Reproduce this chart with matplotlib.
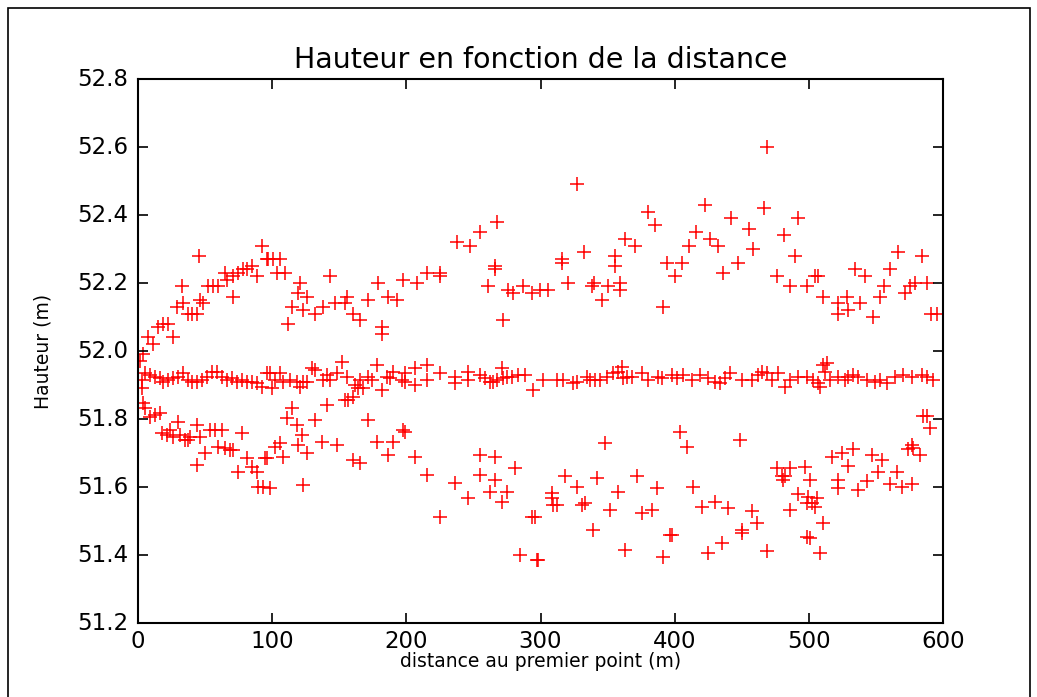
import matplotlib
matplotlib.use("Agg")
import matplotlib.pyplot as plt
from matplotlib.patches import Rectangle

# upper band
upper_x = [1.5, 3.7, 7.5, 11.2, 14.9, 18.6, 22.4, 26.1, 29.1, 33.5, 32.8, 37.3, 40.2, 44.0, 46.2, 48.4,
           45.5, 52.2, 55.9, 59.6, 64.8, 66.3, 70.8, 70.8, 74.5, 78.3, 81.2, 85.0, 88.7, 92.4, 96.1,
           96.9, 100.6, 105.8, 103.6, 109.6, 120.7, 119.3, 126.0, 114.8, 123.0, 111.8, 131.9, 137.9,
           143.1, 146.8, 155.8, 154.3, 160.2, 165.5, 171.4, 178.9, 181.9, 181.9, 186.3, 193.0, 197.5,
           208.0, 215.4, 225.1, 225.1, 237.7, 247.4, 254.9, 267.6, 266.1, 266.1, 260.9, 272.0, 275.8,
           279.5, 286.9, 293.6, 299.6, 305.6, 316.0, 316.0, 320.5, 327.2, 332.4, 338.4, 339.8, 345.8,
           350.3, 355.5, 355.5, 359.3, 359.3, 363.0, 370.4, 380.1, 385.3, 391.3, 394.3, 400.2, 405.4,
           410.7, 415.9, 422.6, 426.3, 432.3, 436.0, 442.0, 447.2, 455.4, 458.4, 466.6, 468.8, 476.2,
           481.5, 485.9, 489.7, 491.9, 498.6, 504.6, 506.8, 510.5, 521.7, 521.7, 528.4, 529.2, 534.4,
           538.1, 541.8, 547.8, 553.0, 556.0, 560.5, 566.4, 571.6, 575.4, 579.1, 584.3, 588.0, 591.0,
           595.5]
upper_y = [51.97, 51.99, 52.04, 52.02, 52.07, 52.08, 52.08, 52.04, 52.13, 52.14, 52.19, 52.11, 52.11,
           52.11, 52.15, 52.14, 52.28, 52.19, 52.19, 52.19, 52.23, 52.21, 52.22, 52.16, 52.23, 52.24,
           52.24, 52.25, 52.22, 52.31, 52.27, 52.27, 52.27, 52.27, 52.23, 52.23, 52.20, 52.17, 52.16,
           52.13, 52.12, 52.08, 52.11, 52.13, 52.22, 52.14, 52.16, 52.14, 52.11, 52.09, 52.15, 52.20,
           52.07, 52.05, 52.16, 52.15, 52.21, 52.20, 52.23, 52.23, 52.22, 52.32, 52.31, 52.35, 52.38,
           52.25, 52.24, 52.19, 52.09, 52.18, 52.17, 52.19, 52.17, 52.18, 52.18, 52.27, 52.26, 52.20,
           52.49, 52.29, 52.19, 52.20, 52.15, 52.19, 52.28, 52.25, 52.20, 52.18, 52.33, 52.31, 52.41,
           52.37, 52.13, 52.26, 52.22, 52.26, 52.31, 52.35, 52.43, 52.33, 52.31, 52.23, 52.39, 52.26,
           52.36, 52.30, 52.42, 52.60, 52.22, 52.34, 52.19, 52.28, 52.39, 52.19, 52.22, 52.22, 52.16,
           52.14, 52.11, 52.16, 52.12, 52.24, 52.14, 52.22, 52.10, 52.16, 52.19, 52.24, 52.29, 52.17,
           52.19, 52.20, 52.28, 52.20, 52.11, 52.11]

# middle band
mid_x = [2.7, 2.7, 5.2, 8.9, 12.7, 16.4, 18.9, 22.6, 26.3, 30.1, 33.8, 37.5, 40.0, 43.7, 47.4, 51.2,
         54.9, 58.6, 62.3, 66.1, 69.8, 73.5, 77.3, 81.0, 84.7, 88.4, 92.2, 95.9,
         98.4, 99.7, 102.1, 105.9, 108.4, 113.3, 118.3, 120.8, 123.3, 125.7, 129.5, 132.0, 138.2,
         140.6, 143.1, 148.1, 151.8, 155.6, 156.8, 160.5, 161.8, 164.2, 168.0, 165.5, 171.7, 174.2,
         177.9, 181.6, 185.4, 187.9, 190.3, 196.5,
         199.0, 199.0, 206.5, 206.5, 215.2, 215.2, 225.1, 236.3, 236.3, 246.2, 246.2, 254.9, 258.6,
         262.4, 264.9, 267.3, 271.1, 272.3, 274.8, 278.5, 283.5, 288.4, 294.7,
         302.1, 312.0, 317.0, 324.5, 327.0, 334.4, 336.9, 340.6, 344.3, 349.3, 354.3, 358.0, 360.5,
         361.7, 364.2, 367.9, 375.4, 380.4, 387.8, 390.3, 397.7,
         401.5, 406.4, 412.6, 418.9, 425.1, 430.0, 433.8, 437.5, 441.2, 449.9, 457.4, 462.3, 464.8,
         468.5, 472.3, 477.2, 482.2, 485.9, 492.1,
         498.3, 503.3, 507.0, 508.3, 510.8, 513.2, 512.0, 515.7, 521.9, 526.9, 529.4, 533.1, 536.8,
         543.1, 549.3, 553.0, 558.0, 564.2, 570.4, 576.6, 584.0, 587.8, 592.7]
mid_y = [51.915, 51.890, 51.934, 51.929, 51.925, 51.920, 51.910, 51.915, 51.920, 51.925, 51.934,
         51.915, 51.910, 51.910, 51.915, 51.925, 51.939, 51.939, 51.925, 51.915, 51.920, 51.910,
         51.915, 51.910, 51.910, 51.905, 51.895, 51.934,
         51.934, 51.890, 51.915, 51.934, 51.910, 51.915, 51.910, 51.895, 51.910, 51.910, 51.949,
         51.944, 51.915, 51.930, 51.915, 51.934, 51.969, 51.925, 51.856, 51.866, 51.900, 51.890,
         51.890, 51.915, 51.925, 51.915, 51.959, 51.885, 51.925, 51.920, 51.939, 51.915,
         51.934, 51.910, 51.949, 51.900, 51.959, 51.915, 51.934, 51.925, 51.905, 51.939, 51.915,
         51.929, 51.920, 51.910, 51.910, 51.915, 51.949, 51.920, 51.925, 51.925, 51.929, 51.929,
         51.885,
         51.915, 51.915, 51.915, 51.905, 51.910, 51.925, 51.915, 51.915, 51.915, 51.925, 51.934,
         51.939, 51.954, 51.920, 51.925, 51.925, 51.934, 51.915, 51.925, 51.920, 51.929,
         51.920, 51.929, 51.915, 51.929, 51.920, 51.910, 51.905, 51.920, 51.934, 51.915, 51.915,
         51.929, 51.939, 51.934, 51.915, 51.934, 51.895, 51.915, 51.925,
         51.925, 51.915, 51.905, 51.895, 51.959, 51.964, 51.939, 51.915, 51.925, 51.915, 51.925,
         51.929, 51.925, 51.915, 51.910, 51.915, 51.905, 51.925, 51.929, 51.925, 51.929, 51.925,
         51.915]

# lower band
low_x = [4.0, 5.2, 8.9, 12.7, 16.4, 17.6, 21.4, 23.8, 26.3, 30.1, 31.3, 35.0, 37.5, 38.7, 43.7,
         46.2, 43.7, 49.9, 53.7, 57.4, 62.3, 59.9, 64.8, 68.6, 71.0, 77.3, 74.8, 81.0, 84.7, 88.4,
         89.7, 93.4, 95.9,
         114.6, 110.8, 118.3, 122.0, 132.0, 140.6, 154.3, 171.7, 197.8, 94.7, 102.1, 105.9, 108.4,
         119.5, 125.7, 136.9, 148.1, 160.5, 165.5, 177.9, 186.6, 190.3, 98.4, 123.3,
         199.0, 206.5, 215.2, 225.1, 236.3, 246.2, 254.9, 254.9, 266.1, 266.1, 262.4, 271.1, 274.8,
         281.0, 293.4, 284.7, 297.2,
         348.1, 318.3, 327.0, 341.9, 371.7, 358.0, 386.6, 308.3, 308.3, 309.6, 312.0, 330.7, 333.2,
         351.8, 375.4, 382.8, 295.9, 339.4, 396.5, 298.4, 363.0, 391.5,
         404.0, 408.9, 448.7, 413.9, 420.1, 430.0, 440.0, 457.4, 461.1, 449.9, 449.9, 435.0, 425.1,
         468.5, 397.7, 476.0, 479.7, 482.2, 485.9, 481.0, 497.1, 492.1, 485.9, 498.3, 498.3,
         500.8, 499.6, 502.1, 505.8, 504.6, 510.8, 500.8, 508.3, 517.0, 524.4, 533.1, 529.4, 521.9,
         521.9, 536.8, 543.1, 546.8, 554.2, 551.7, 560.4, 565.4, 569.1, 576.6, 574.1, 577.8, 576.6,
         582.8, 585.3, 587.8, 590.2]
low_y = [51.846, 51.831, 51.807, 51.812, 51.817, 51.758, 51.753, 51.768, 51.748, 51.792, 51.753,
         51.738, 51.738, 51.748, 51.782, 51.748, 51.665, 51.699, 51.768, 51.768, 51.768, 51.719,
         51.714, 51.709, 51.709, 51.758, 51.645, 51.684, 51.660, 51.645, 51.601, 51.601, 51.684,
         51.832, 51.802, 51.782, 51.753, 51.797, 51.841, 51.856, 51.797, 51.768, 51.684, 51.719,
         51.729, 51.689, 51.724, 51.699, 51.733, 51.724, 51.680, 51.672, 51.733, 51.694, 51.733,
         51.596, 51.606,
         51.763, 51.689, 51.635, 51.513, 51.611, 51.567, 51.694, 51.635, 51.689, 51.621, 51.586,
         51.557, 51.586, 51.655, 51.513, 51.400, 51.386,
         51.729, 51.631, 51.601, 51.626, 51.631, 51.586, 51.596, 51.582, 51.567, 51.547, 51.547,
         51.547, 51.552, 51.532, 51.525, 51.532, 51.513, 51.474, 51.459, 51.386, 51.415, 51.395,
         51.763, 51.719, 51.738, 51.601, 51.542, 51.557, 51.537, 51.528, 51.495, 51.474, 51.464,
         51.435, 51.405, 51.413, 51.459, 51.655, 51.631, 51.631, 51.655, 51.621, 51.660, 51.580,
         51.532, 51.552, 51.454,
         51.621, 51.572, 51.552, 51.567, 51.542, 51.495, 51.449, 51.405, 51.689, 51.699, 51.711,
         51.662, 51.621, 51.596, 51.591, 51.618, 51.694, 51.679, 51.645, 51.609, 51.645, 51.601,
         51.609, 51.711, 51.714, 51.723, 51.694, 51.809, 51.809, 51.773]

plt.style.use('classic')
fig = plt.figure(figsize=(10.37, 6.97), dpi=100, facecolor='white')
ax = fig.add_axes([138/1037, 1 - 623/697, 805/1037, 544/697])

for xs, ys in [(upper_x, upper_y), (mid_x, mid_y), (low_x, low_y)]:
    ax.plot(xs, ys, '+', color='red', markersize=10, markeredgewidth=1.1)

ax.set_xlim(0, 600)
ax.set_ylim(51.2, 52.8)
ax.set_xticks([0, 100, 200, 300, 400, 500, 600])
ax.set_yticks([51.2, 51.4, 51.6, 51.8, 52.0, 52.2, 52.4, 52.6, 52.8])
ax.tick_params(labelsize=16.5, length=7, width=1.2, direction='in')
ax.tick_params(axis='x', pad=5)
ax.tick_params(axis='y', pad=7)
for s in ax.spines.values():
    s.set_linewidth(1.5)

ax.set_title("Hauteur en fonction de la distance", fontsize=20.5, pad=8)
ax.set_xlabel("distance au premier point (m)", fontsize=13.5, labelpad=-1)
ax.set_ylabel("Hauteur (m)", fontsize=13.5, labelpad=18)

# outer frame of the screenshot
fig.patches.append(Rectangle((8/1037, -0.02), 1022/1037, 1.02 - 8/697, transform=fig.transFigure,
                             fill=False, edgecolor='black', linewidth=1.2))

fig.savefig("out.png", dpi=100, facecolor='white')
